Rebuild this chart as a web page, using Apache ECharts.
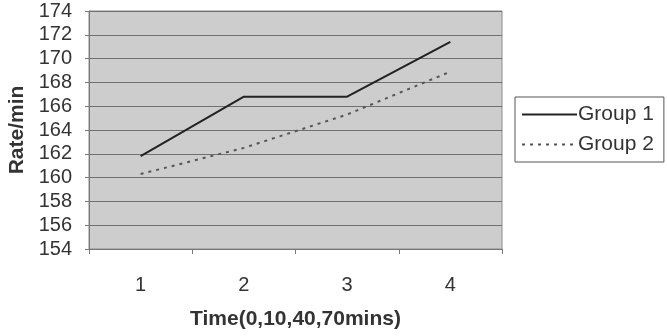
<!DOCTYPE html>
<html>
<head>
<meta charset="utf-8">
<script src="https://cdn.jsdelivr.net/npm/echarts@6/dist/echarts.min.js"></script>
<style>
  html, body { margin: 0; padding: 0; background: #fff; }
  #chart { width: 667px; height: 336px; }
</style>
</head>
<body>
<div id="chart"></div>
<script>
// 数据
const categories = ['1', '2', '3', '4']
const group1 = [161.8, 166.8, 166.8, 171.4]
const group2 = [160.3, 162.5, 165.3, 168.9]
const yMin = 154
const yMax = 174
const yStep = 2

const myChart = echarts.init(document.getElementById('chart'))
const font = 'Liberation Sans, Arial, sans-serif'

const option = {
  animation: false,
  grid: {
    left: 89,
    top: 11,
    right: 165,
    bottom: 87,
    outerBoundsMode: 'none',
    containLabel: false,
    show: true,
    backgroundColor: '#cdcdcd',
    borderColor: '#8a8a8a',
    borderWidth: 1
  },
  legend: {
    orient: 'vertical',
    left: 515,
    top: 97,
    itemWidth: 55,
    itemHeight: 14,
    itemGap: 9,
    padding: [7, 10, 7, 6],
    borderColor: '#555',
    borderWidth: 1,
    itemStyle: { opacity: 0 },
    textStyle: { fontFamily: font, fontSize: 21, color: '#333', padding: [0, 0, 0, -4] },
    data: ['Group 1', 'Group 2']
  },
  xAxis: {
    type: 'category',
    data: categories,
    boundaryGap: true,
    name: 'Time(0,10,40,70mins)',
    nameLocation: 'middle',
    nameGap: 60,
    nameTextStyle: { fontFamily: font, fontSize: 21, fontWeight: 'bold', color: '#333' },
    axisLine: { lineStyle: { color: '#777' } },
    axisTick: { show: true, length: 5, lineStyle: { color: '#777' } },
    axisLabel: { fontFamily: font, fontSize: 20, color: '#333', margin: 26 },
    splitLine: { show: false }
  },
  yAxis: {
    type: 'value',
    min: yMin,
    max: yMax,
    interval: yStep,
    name: 'Rate/min',
    nameLocation: 'middle',
    nameGap: 58,
    nameRotate: 90,
    nameTextStyle: { fontFamily: font, fontSize: 21, fontWeight: 'bold', color: '#333' },
    axisLine: { show: true, lineStyle: { color: '#777' } },
    axisTick: { show: true, length: 4, lineStyle: { color: '#777' } },
    axisLabel: { fontFamily: font, fontSize: 20, color: '#333', margin: 17 },
    splitLine: { show: true, lineStyle: { color: '#707070', width: 1 } }
  },
  series: [
    {
      name: 'Group 1',
      type: 'line',
      data: group1,
      symbol: 'none',
      lineStyle: { color: '#222', width: 2 },
      itemStyle: { color: '#222' }
    },
    {
      name: 'Group 2',
      type: 'line',
      data: group2,
      symbol: 'none',
      lineStyle: { color: '#555', width: 2, type: [3, 5] },
      itemStyle: { color: '#555' }
    }
  ]
}

myChart.setOption(option)
</script>
</body>
</html>
